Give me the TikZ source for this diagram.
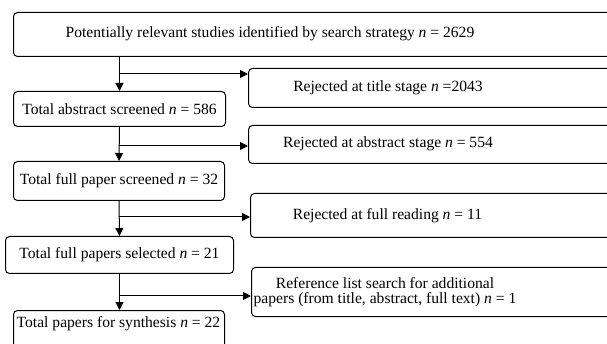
\documentclass[tikz,border=0pt]{standalone}
\usepackage{fontspec}
\setmainfont{Liberation Serif}
\usetikzlibrary{arrows.meta}
\begin{document}
\begin{tikzpicture}[x=1pt,y=-1pt,
  box/.style={draw, rounded corners=4pt, line width=1pt, inner sep=0pt, anchor=north west},
  txt/.style={font=\fontsize{15.6}{15.5}\selectfont, inner sep=0pt, align=center},
  arr/.style={line width=1pt, -{Triangle[length=8pt,width=8pt]}}]
\clip (0,0) rectangle (607,344);
% top box
\node[box, minimum width=620pt, minimum height=44pt] (T) at (13,12) {};
\node[txt] (Tt) at (270,34) {Potentially relevant studies identified by search strategy \textit{n} = 2629};
% left column
\node[box, txt, minimum width=212pt, minimum height=35pt] (A1) at (13,91) {Total abstract screened \textit{n} = 586};
\node[box, txt, minimum width=211pt, minimum height=39pt] (A2) at (13,161) {Total full paper screened \textit{n} = 32};
\node[box, txt, minimum width=228pt, minimum height=37pt] (A3) at (5,236) {Total full papers selected \textit{n} = 21};
\node[box, minimum width=211pt, minimum height=40pt] (A4) at (13,310) {};
\node[txt] (A4t) at (118.5,324) {Total papers for synthesis \textit{n} = 22};
% right column
\node[box, minimum width=372pt, minimum height=39pt] (R1) at (248,68) {};
\node[txt] (R1t) at (388,87.5) {Rejected at title stage \textit{n} =2043};
\node[box, minimum width=372pt, minimum height=38pt] (R2) at (248,125) {};
\node[txt] (R2t) at (388,144) {Rejected at abstract stage \textit{n} = 554};
\node[box, minimum width=370pt, minimum height=44pt] (R3) at (250,193) {};
\node[txt] (R3t) at (387.5,215.5) {Rejected at full reading \textit{n} = 11};
\node[box, minimum width=369pt, minimum height=49pt] (R4) at (251,267) {};
\node[txt] (R4t) at (385,292) {Reference list search for additional\\papers (from title, abstract, full text) \textit{n} = 1};
% connectors
\draw[arr] (A1.north |- T.south) -- (A1.north);
\draw[arr] (A1.south) -- (A2.north);
\draw[arr] (A2.south) -- (A3.north);
\draw[arr] (A3.south) -- (A3.south |- A4.north);
\coordinate (j1) at (119,74);
\coordinate (j2) at (119,146);
\coordinate (j3) at (119,217);
\coordinate (j4) at (119,296);
\draw[arr] (j1) -- (j1 -| R1.west);
\draw[arr] (j2) -- (j2 -| R2.west);
\draw[arr] (j3) -- (j3 -| R3.west);
\draw[arr] (j4) -- (j4 -| R4.west);
\end{tikzpicture}
\end{document}
